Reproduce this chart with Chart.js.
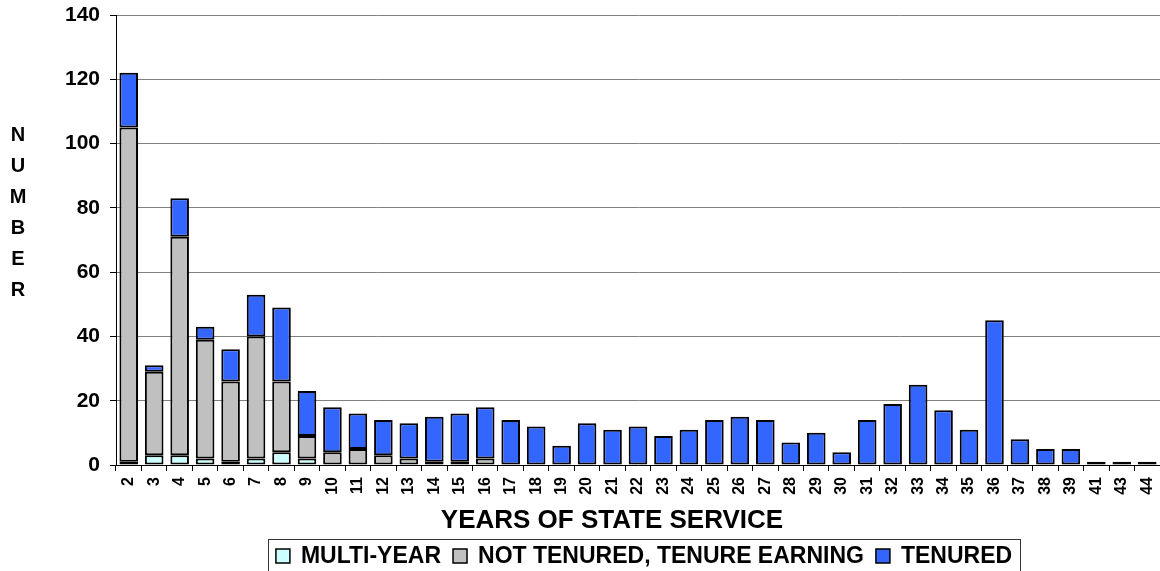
<!DOCTYPE html>
<html>
<head>
<meta charset="utf-8">
<script src="https://cdn.jsdelivr.net/npm/chart.js@4.4.1/dist/chart.umd.min.js"></script>
<style>
  html, body { margin: 0; padding: 0; background: #fff; }
  .chart-wrapper { position: relative; width: 1160px; height: 571px; }
</style>
</head>
<body>
<div class="chart-wrapper"><canvas id="serviceChart"></canvas></div>
<script>
// --- Data ---
const years = ['2','3','4','5','6','7','8','9','10','11','12','13','14','15','16',
  '17','18','19','20','21','22','23','24','25','26','27','28','29','30',
  '31','32','33','34','35','36','37','38','39','41','43','44'];

const multiYear = [1,3,3,2,1,2,4,2,0,0,0,0,0,0,0,
  0,0,0,0,0,0,0,0,0,0,0,0,0,0,
  0,0,0,0,0,0,0,0,0,0,0,0];

const notTenured = [104,26,68,37,25,38,22,7,4,5,3,2,1,1,2,
  0,0,0,0,0,0,0,0,0,0,0,0,0,0,
  0,0,0,0,0,0,0,0,0,0,0,0];

const tenured = [17,2,12,4,10,13,23,14,14,11,11,11,14,15,16,
  14,12,6,13,11,12,9,11,14,15,14,7,10,4,
  14,19,25,17,11,45,8,5,5,1,1,1];

const yTicks = [0, 20, 40, 60, 80, 100, 120, 140];

const FONT = '"Liberation Sans", Arial, sans-serif';

// --- Titles and boxed legend, drawn like the Excel original ---
const decorPlugin = {
  id: 'decor',
  afterDraw(chart) {
    const ctx = chart.ctx;
    const area = chart.chartArea;
    ctx.save();
    ctx.fillStyle = '#000';

    // Y title: stacked letters
    ctx.font = 'bold 20px ' + FONT;
    ctx.textAlign = 'center';
    ctx.textBaseline = 'middle';
    'NUMBER'.split('').forEach((ch, i) => {
      ctx.fillText(ch, 18, 135 + i * 31);
    });

    // X title
    ctx.font = 'bold 26px ' + FONT;
    ctx.fillText('YEARS OF STATE SERVICE', (area.left + area.right) / 2 - 26, 521);

    // Legend
    ctx.font = 'bold 23px ' + FONT;
    const box = 14, gapText = 11, gapItem = 12;
    const items = chart.data.datasets.map(ds => ({
      label: ds.label,
      color: ds.backgroundColor,
      w: box + gapText + ctx.measureText(ds.label).width
    }));
    const total = items.reduce((s, it) => s + it.w, 0) + gapItem * (items.length - 1);
    let x = (area.left + area.right) / 2 + 6 - total / 2;

    ctx.strokeStyle = '#333';
    ctx.lineWidth = 1;
    ctx.strokeRect(Math.round(x - 8) + 0.5, 539.5, Math.round(total + 16), 40);

    const cy = 556;
    ctx.textAlign = 'left';
    items.forEach(it => {
      ctx.fillStyle = it.color;
      ctx.fillRect(x, cy - box / 2, box, box);
      ctx.strokeStyle = '#000';
      ctx.lineWidth = 1.5;
      ctx.strokeRect(x, cy - box / 2, box, box);
      ctx.fillStyle = '#000';
      ctx.fillText(it.label, x + box + gapText, cy + 1);
      x += it.w + gapItem;
    });
    ctx.restore();
  }
};

function renderChart() {
  const ctx = document.getElementById('serviceChart');

  const barStyle = {
    borderColor: '#000',
    borderWidth: 2,
    borderSkipped: false,
    categoryPercentage: 1.0,
    barPercentage: 0.73
  };

  new Chart(ctx, {
    type: 'bar',
    data: {
      labels: years,
      datasets: [
        { label: 'MULTI-YEAR', data: multiYear, backgroundColor: '#CCFFFF', ...barStyle },
        { label: 'NOT TENURED, TENURE EARNING', data: notTenured, backgroundColor: '#C0C0C0', ...barStyle },
        { label: 'TENURED', data: tenured, backgroundColor: '#3366FF', ...barStyle }
      ]
    },
    options: {
      responsive: true,
      maintainAspectRatio: false,
      animation: false,
      layout: { padding: { left: 0, right: 0, top: 15, bottom: 0 } },
      plugins: {
        legend: { display: false },
        tooltip: { enabled: false }
      },
      scales: {
        x: {
          stacked: true,
          afterFit: scale => {
            scale.height = 106;
            scale.paddingLeft = 0;
            scale.paddingRight = 0;
          },
          grid: {
            offset: true,
            drawOnChartArea: false,
            drawTicks: true,
            tickLength: 6,
            tickColor: '#000'
          },
          border: { color: '#000', width: 1 },
          ticks: {
            autoSkip: false,
            minRotation: 90,
            maxRotation: 90,
            padding: 6,
            color: '#000',
            font: { family: FONT, size: 16, weight: 'bold' }
          }
        },
        y: {
          stacked: true,
          min: 0,
          max: 140,
          afterFit: scale => {
            scale.width = 116;
            scale.paddingTop = 0;
            scale.paddingBottom = 0;
          },
          afterBuildTicks: scale => { scale.ticks = yTicks.map(v => ({ value: v })); },
          grid: {
            color: '#808080',
            lineWidth: 1,
            drawTicks: true,
            tickLength: 6,
            tickColor: '#000'
          },
          border: { color: '#000', width: 1 },
          ticks: {
            padding: 10,
            color: '#000',
            font: { family: FONT, size: 21, weight: 'bold' }
          }
        }
      }
    },
    plugins: [decorPlugin]
  });
}

document.addEventListener('DOMContentLoaded', () => {
  renderChart();
});
</script>
</body>
</html>
